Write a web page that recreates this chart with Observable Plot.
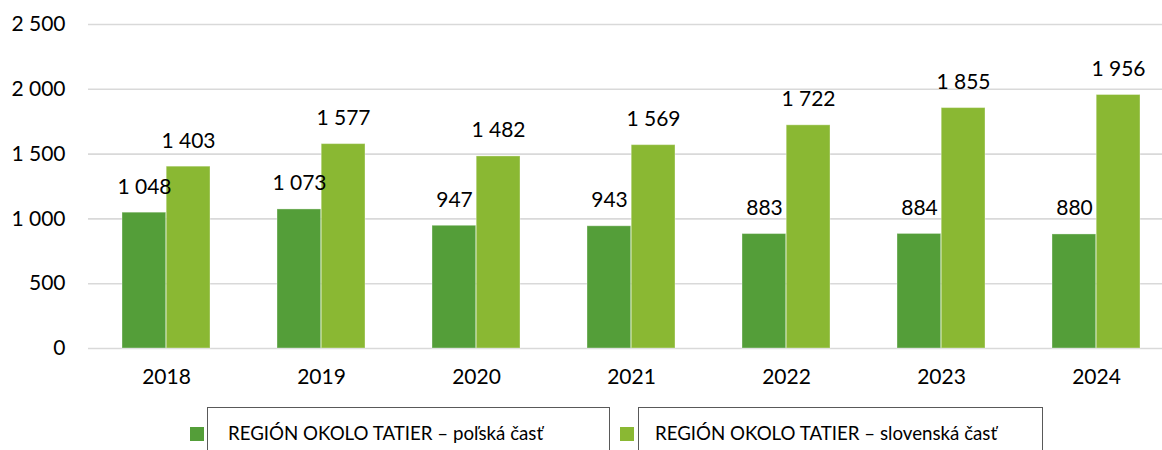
<!DOCTYPE html>
<html>
<head>
<meta charset="utf-8">
<script src="https://cdn.jsdelivr.net/npm/d3@7"></script>
<script src="https://cdn.jsdelivr.net/npm/@observablehq/plot@0.6"></script>
<style>
  html, body { margin: 0; padding: 0; background: #fff; }
  body { width: 1162px; height: 450px; overflow: hidden; font-family: Lato, "Open Sans", sans-serif; }
  #chart svg { display: block; }
  #legend { position: relative; height: 55px; width: 1162px; }
  .sw { position: absolute; width: 14px; height: 14px; }
  .box { position: absolute; top: 12px; height: 60px; border: 1px solid #595959; box-sizing: border-box; }
  .lt { position: absolute; font-size: 18.7px; color: #000; white-space: nowrap; line-height: 20px; }
</style>
</head>
<body>
<div id="chart"></div>
<div id="legend"></div>
<script>
const years = ["2018", "2019", "2020", "2021", "2022", "2023", "2024"];
const seriesNames = ["REGIÓN OKOLO TATIER – poľská časť", "REGIÓN OKOLO TATIER – slovenská časť"];
const polishValues = [1048, 1073, 947, 943, 883, 884, 880];
const slovakValues = [1403, 1577, 1482, 1569, 1722, 1855, 1956];
const yTicks = [0, 500, 1000, 1500, 2000, 2500];
const colors = ["#549E39", "#8AB833"];

const fmt = v => d3.format(",")(v).replace(/,/g, "\u00a0");

const polish = years.map((y, i) => ({year: y, value: polishValues[i]}));
const slovak = years.map((y, i) => ({year: y, value: slovakValues[i]}));

const chart = Plot.plot({
  width: 1162,
  height: 395,
  marginLeft: 88,
  marginRight: 0,
  marginTop: 24,
  marginBottom: 47,
  style: {fontFamily: "Lato, 'Open Sans', sans-serif", fontSize: "21px", color: "#000", background: "#fff"},
  x: {domain: years, range: [88, 1174], paddingInner: 0.433, paddingOuter: 0.2165, label: null},
  y: {domain: [0, 2500], label: null},
  marks: [
    Plot.ruleY(yTicks, {stroke: "#d9d9d9", strokeWidth: 1.6}),
    Plot.barY(polish, {x: "year", y: "value", fill: colors[0], insetRight: 44.2, stroke: "#ffffff", strokeOpacity: 0.35, strokeWidth: 1}),
    Plot.barY(slovak, {x: "year", y: "value", fill: colors[1], insetLeft: 44.2, stroke: "#ffffff", strokeOpacity: 0.35, strokeWidth: 1}),
    Plot.text(polish, {x: "year", y: "value", text: d => fmt(d.value), dx: -22, dy: -19, lineAnchor: "bottom", fontSize: 21, fill: "#000"}),
    Plot.text(slovak, {x: "year", y: "value", text: d => fmt(d.value), dx: 22, dy: -19, lineAnchor: "bottom", fontSize: 21, fill: "#000"}),
    Plot.axisY({ticks: yTicks, tickSize: 0, tickPadding: 23, tickFormat: fmt, fontSize: 21, label: null}),
    Plot.axisX({tickSize: 0, tickPadding: 21, fontSize: 21, label: null})
  ]
});
document.getElementById("chart").appendChild(chart);

const legend = document.getElementById("legend");
const items = [
  {sw: 190, box: 207, boxW: 403, text: 228},
  {sw: 620, box: 638, boxW: 405, text: 655}
];
items.forEach((it, i) => {
  const sw = document.createElement("div");
  sw.className = "sw";
  sw.style.left = it.sw + "px";
  sw.style.top = "32px";
  sw.style.background = colors[i];
  legend.appendChild(sw);
  const box = document.createElement("div");
  box.className = "box";
  box.style.left = it.box + "px";
  box.style.width = it.boxW + "px";
  legend.appendChild(box);
  const t = document.createElement("div");
  t.className = "lt";
  t.style.left = it.text + "px";
  t.style.top = "28px";
  t.textContent = seriesNames[i];
  legend.appendChild(t);
});
</script>
</body>
</html>
